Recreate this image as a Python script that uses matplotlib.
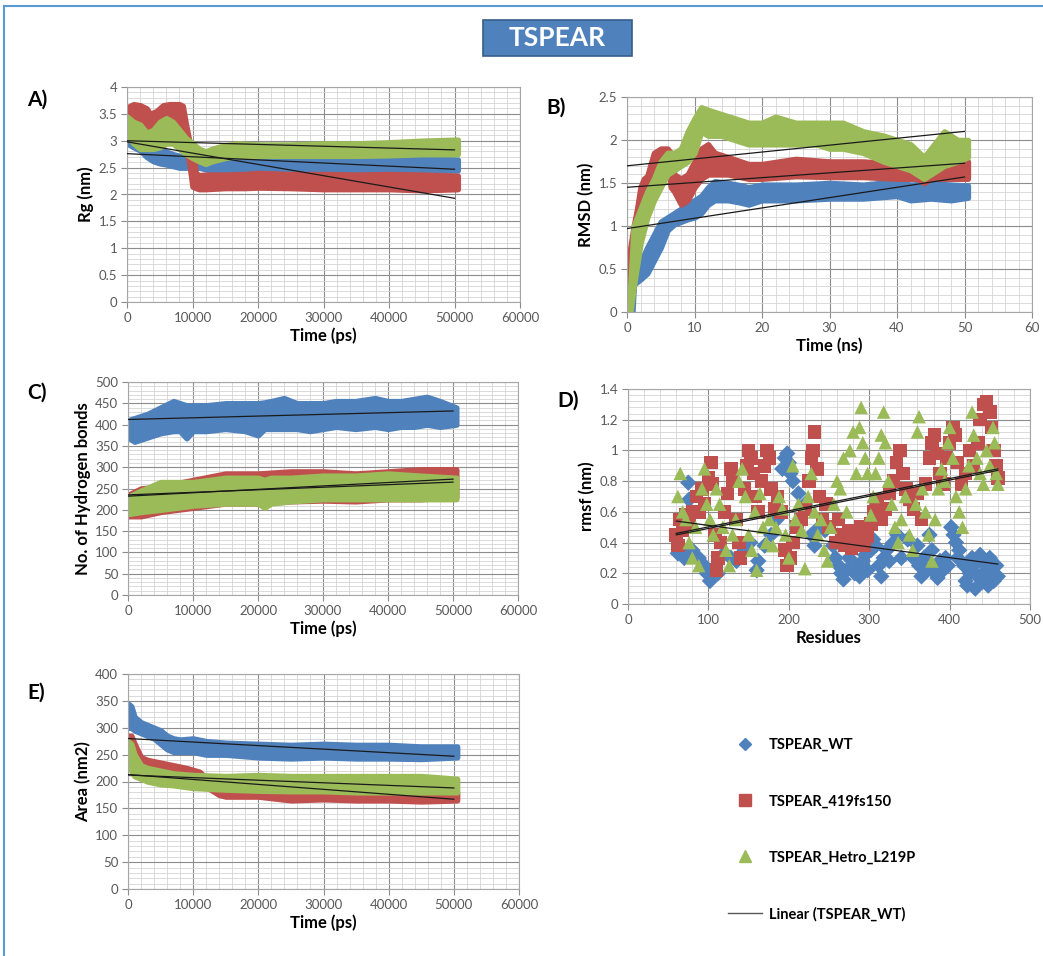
import numpy as np
import matplotlib.pyplot as plt
from matplotlib.ticker import MultipleLocator, FuncFormatter
from matplotlib.lines import Line2D
from matplotlib.patches import Rectangle

plt.rcParams['font.family'] = ['Lato', 'DejaVu Sans']

BLUE = '#4F81BD'
RED = '#C0504D'
GREEN = '#9BBB59'
TREND = '#1a1a1a'

series_names = ['TSPEAR_WT', 'TSPEAR_419fs150', 'TSPEAR_Hetro_L219P']

# ---- A) Rg (nm) vs time (ps): band envelopes
a_t_wt = [0, 1000, 2000, 3000, 4000, 5000, 6000, 7000, 8000, 9000, 10000, 11000,
          12000, 13000, 14000, 16000, 20000, 25000, 30000, 35000, 40000, 45000, 50500]
a_lo_wt = [2.95, 2.88, 2.82, 2.7, 2.62, 2.58, 2.56, 2.53, 2.5, 2.5, 2.5, 2.5,
           2.47, 2.45, 2.43, 2.42, 2.42, 2.42, 2.43, 2.42, 2.43, 2.43, 2.45]
a_hi_wt = [3.12, 3.05, 2.98, 2.92, 2.88, 2.85, 2.8, 2.75, 2.72, 2.68, 2.62, 2.58,
           2.58, 2.62, 2.65, 2.68, 2.67, 2.67, 2.68, 2.67, 2.68, 2.68, 2.65]
a_t_fs = [0, 1000, 2000, 3000, 3500, 4500, 5500, 6500, 7500, 8000, 8500, 9000, 9500,
          10000, 10500, 11000, 12000, 15000, 18000, 20000, 25000, 30000, 35000, 40000,
          45000, 50500]
a_lo_fs = [3.15, 3.25, 3.2, 3.12, 3.08, 3.2, 3.3, 3.35, 3.3, 3.2, 3.1, 2.85, 2.6,
           2.15, 2.12, 2.1, 2.1, 2.12, 2.12, 2.13, 2.12, 2.1, 2.1, 2.1, 2.08, 2.1]
a_hi_fs = [3.62, 3.68, 3.66, 3.6, 3.5, 3.55, 3.66, 3.68, 3.68, 3.68, 3.65, 3.3, 3.0,
           2.85, 2.4, 2.36, 2.37, 2.37, 2.38, 2.4, 2.38, 2.38, 2.37, 2.38, 2.37, 2.35]
a_t_he = [0, 1000, 2000, 3000, 4000, 5000, 6000, 7000, 8000, 9000, 10000, 11000,
          12000, 13000, 15000, 17000, 20000, 25000, 30000, 35000, 40000, 45000, 50500]
a_lo_he = [3.1, 2.95, 2.85, 2.85, 2.85, 2.88, 2.95, 2.95, 2.85, 2.75, 2.68, 2.62,
           2.57, 2.62, 2.68, 2.72, 2.72, 2.72, 2.72, 2.72, 2.73, 2.75, 2.75]
a_hi_he = [3.45, 3.35, 3.3, 3.15, 3.2, 3.35, 3.42, 3.35, 3.2, 3.05, 2.95, 2.85,
           2.8, 2.85, 2.92, 2.95, 2.93, 2.93, 2.95, 2.95, 2.97, 3.0, 3.02]
a_trend_x = [0, 50000]
a_trend_wt = [2.76, 2.47]
a_trend_fs = [2.98, 1.93]
a_trend_he = [3.0, 2.83]

# ---- B) RMSD (nm) vs time (ns)
b_t_wt = [0, 0.8, 1, 2, 3, 4, 5, 6, 7, 8, 9, 10, 11, 12, 13, 15, 17, 18, 20, 25,
          30, 35, 40, 42, 45, 48, 50.5]
b_lo_wt = [0, 0, 0.32, 0.38, 0.45, 0.6, 0.75, 0.95, 1.02, 1.05, 1.08, 1.1, 1.15,
           1.25, 1.3, 1.3, 1.27, 1.25, 1.3, 1.3, 1.32, 1.32, 1.35, 1.3, 1.32, 1.3, 1.33]
b_hi_wt = [0.05, 0.1, 0.5, 0.58, 0.75, 0.9, 1.05, 1.1, 1.15, 1.2, 1.25, 1.3, 1.35,
           1.45, 1.52, 1.5, 1.47, 1.45, 1.48, 1.48, 1.5, 1.48, 1.52, 1.48, 1.5, 1.48, 1.47]
b_t_fs = [0, 0.5, 1, 1.5, 2, 2.5, 3, 4, 5, 6, 6.5, 7, 8, 9, 10, 11, 12, 13, 15, 18,
          20, 25, 30, 35, 40, 43, 44, 45, 47, 50.5]
b_lo_fs = [0, 0, 0.6, 0.9, 1.05, 1.3, 1.35, 1.5, 1.7, 1.75, 1.45, 1.4, 1.25, 1.3,
           1.45, 1.55, 1.6, 1.6, 1.6, 1.55, 1.55, 1.58, 1.57, 1.57, 1.55, 1.55, 1.5,
           1.55, 1.55, 1.55]
b_hi_fs = [0.05, 0.75, 1.0, 1.2, 1.45, 1.55, 1.58, 1.85, 1.9, 1.9, 1.85, 1.6, 1.55,
           1.6, 1.75, 1.9, 1.95, 1.85, 1.8, 1.72, 1.72, 1.78, 1.75, 1.75, 1.72, 1.72,
           1.65, 1.68, 1.75, 1.75]
b_t_he = [0, 0.5, 1, 2, 3, 4, 5, 6, 7, 8, 9, 10, 11, 12, 14, 16, 18, 20, 22, 25, 28,
          30, 32, 35, 38, 40, 42, 44, 45, 47, 49, 50.5]
b_lo_he = [0, 0, 0.3, 0.8, 1.1, 1.3, 1.45, 1.6, 1.65, 1.7, 1.75, 1.85, 2.1, 2.05,
           2.05, 2.0, 1.95, 1.95, 1.95, 1.95, 1.95, 1.9, 1.9, 1.85, 1.75, 1.7, 1.65,
           1.55, 1.6, 1.7, 1.75, 1.8]
b_hi_he = [0.1, 0.3, 1.0, 1.2, 1.4, 1.55, 1.75, 1.85, 1.85, 1.9, 2.1, 2.25, 2.38,
           2.35, 2.3, 2.25, 2.2, 2.2, 2.27, 2.2, 2.2, 2.2, 2.2, 2.1, 2.05, 2.0, 1.95,
           1.8, 1.9, 2.1, 2.0, 2.0]
b_trend_x = [0, 50]
b_trend_wt = [0.97, 1.57]
b_trend_fs = [1.45, 1.73]
b_trend_he = [1.7, 2.1]

# ---- C) No. of hydrogen bonds vs time (ps)
c_t_wt = [0, 1000, 2000, 3000, 5000, 7000, 8000, 9000, 10000, 12000, 15000, 18000,
          20000, 21000, 22000, 24000, 26000, 28000, 30000, 32000, 35000, 38000, 40000,
          42000, 44000, 46000, 48000, 50500]
c_lo_wt = [370, 360, 365, 370, 380, 385, 385, 368, 385, 385, 390, 385, 375, 390, 390,
           390, 390, 385, 390, 395, 390, 395, 390, 395, 395, 400, 395, 400]
c_hi_wt = [410, 415, 420, 425, 440, 455, 450, 445, 445, 445, 450, 450, 450, 452, 455,
           462, 450, 450, 450, 455, 455, 462, 455, 455, 460, 465, 455, 440]
c_t_fs = [0, 2000, 5000, 10000, 15000, 20000, 25000, 30000, 35000, 40000, 45000, 50500]
c_lo_fs = [185, 185, 195, 205, 215, 215, 220, 222, 220, 225, 225, 230]
c_hi_fs = [235, 250, 255, 270, 285, 285, 290, 290, 285, 290, 295, 295]
c_t_he = [0, 2000, 5000, 10000, 15000, 20000, 21000, 22000, 25000, 30000, 35000,
          40000, 45000, 50500]
c_lo_he = [190, 195, 200, 210, 215, 215, 205, 215, 220, 225, 225, 225, 225, 225]
c_hi_he = [230, 245, 265, 265, 275, 275, 270, 275, 275, 280, 280, 285, 280, 275]
c_trend_x = [0, 50000]
c_trend_wt = [412, 432]
c_trend_fs = [232, 272]
c_trend_he = [235, 265]

# ---- D) rmsf (nm) vs residue
d_res_wt = [62, 70, 75, 76, 80, 88, 95, 98, 102, 108, 112, 120, 128, 135, 145, 152,
            160, 162, 170, 178, 185, 192, 195, 198, 200, 202, 205, 212, 220, 228, 232,
            238, 245, 255, 258, 262, 265, 268, 272, 275, 278, 282, 285, 288, 292, 295,
            298, 302, 305, 308, 312, 315, 318, 322, 325, 330, 335, 340, 348, 355, 360,
            362, 365, 368, 372, 375, 378, 382, 385, 388, 392, 395, 398, 402, 405, 408,
            410, 412, 418, 420, 422, 425, 428, 430, 432, 435, 438, 440, 442, 445, 448,
            450, 452, 455, 458, 460]
d_val_wt = [0.33, 0.30, 0.79, 0.68, 0.35, 0.30, 0.25, 0.20, 0.15, 0.22, 0.20, 0.33,
            0.30, 0.28, 0.35, 0.40, 0.22, 0.28, 0.38, 0.45, 0.55, 0.88, 0.95, 0.98,
            0.92, 0.85, 0.80, 0.72, 0.65, 0.45, 0.38, 0.50, 0.48, 0.38, 0.30, 0.25,
            0.20, 0.16, 0.22, 0.30, 0.35, 0.20, 0.25, 0.18, 0.28, 0.32, 0.22, 0.35,
            0.42, 0.38, 0.25, 0.18, 0.30, 0.35, 0.28, 0.40, 0.45, 0.30, 0.42, 0.30,
            0.38, 0.25, 0.18, 0.30, 0.22, 0.45, 0.35, 0.20, 0.17, 0.28, 0.22, 0.30,
            0.25, 0.50, 0.45, 0.40, 0.30, 0.35, 0.25, 0.15, 0.12, 0.20, 0.30, 0.25,
            0.10, 0.18, 0.32, 0.28, 0.15, 0.22, 0.12, 0.30, 0.20, 0.15, 0.25, 0.18]
d_res_fs = [60, 62, 64, 68, 72, 76, 80, 85, 88, 92, 95, 100, 103, 105, 108, 110, 112,
            115, 120, 124, 128, 130, 134, 138, 140, 145, 148, 150, 153, 156, 158, 162,
            166, 170, 173, 176, 178, 182, 186, 190, 195, 198, 202, 205, 210, 215, 220,
            225, 228, 230, 232, 235, 238, 242, 246, 250, 258, 262, 266, 270, 274, 278,
            282, 286, 290, 294, 298, 302, 306, 310, 315, 320, 325, 330, 334, 338, 342,
            346, 350, 355, 360, 365, 370, 375, 378, 381, 384, 388, 392, 396, 400, 404,
            407, 410, 415, 420, 425, 430, 435, 438, 442, 446, 450, 452, 455, 458, 460]
d_val_fs = [0.45, 0.38, 0.55, 0.48, 0.58, 0.52, 0.60, 0.70, 0.60, 0.75, 0.65, 0.82,
            0.92, 0.78, 0.45, 0.22, 0.30, 0.40, 0.60, 0.72, 0.88, 0.80, 0.55, 0.40,
            0.30, 0.75, 0.90, 1.00, 0.95, 0.85, 0.70, 0.60, 0.80, 0.90, 1.00, 0.95,
            0.75, 0.62, 0.70, 0.60, 0.35, 0.25, 0.30, 0.40, 0.50, 0.55, 0.62, 0.80,
            0.95, 1.00, 1.12, 0.88, 0.70, 0.55, 0.65, 0.50, 0.40, 0.55, 0.45, 0.38,
            0.48, 0.36, 0.45, 0.40, 0.50, 0.38, 0.44, 0.52, 0.60, 0.68, 0.55, 0.62,
            0.72, 0.80, 0.92, 1.00, 0.85, 0.75, 0.68, 0.62, 0.72, 0.55, 0.78, 0.95,
            1.05, 1.10, 0.98, 0.85, 0.78, 0.95, 1.05, 1.15, 1.10, 0.92, 0.78, 0.85,
            1.00, 0.90, 1.05, 1.20, 1.30, 1.32, 1.25, 1.15, 1.00, 0.90, 0.82]
d_res_he = [62, 65, 68, 72, 76, 80, 84, 88, 92, 95, 98, 102, 106, 110, 114, 118, 122,
            126, 130, 134, 138, 142, 146, 150, 154, 158, 160, 164, 168, 172, 176, 180,
            184, 188, 192, 196, 200, 205, 208, 212, 216, 220, 224, 228, 232, 236, 240,
            244, 248, 252, 256, 260, 264, 268, 272, 276, 280, 284, 288, 290, 292, 295,
            298, 302, 305, 308, 312, 315, 318, 320, 324, 328, 332, 336, 340, 345, 350,
            354, 358, 360, 362, 366, 370, 374, 378, 382, 386, 390, 394, 398, 400, 404,
            408, 412, 416, 420, 424, 428, 430, 434, 438, 442, 446, 450, 454, 456, 458,
            460]
d_val_he = [0.70, 0.85, 0.60, 0.55, 0.40, 0.30, 0.50, 0.25, 0.75, 0.88, 0.65, 0.55,
            0.45, 0.75, 0.65, 0.50, 0.35, 0.25, 0.45, 0.55, 0.80, 0.88, 0.70, 0.45,
            0.35, 0.60, 0.22, 0.72, 0.50, 0.40, 0.55, 0.38, 0.50, 0.70, 0.62, 0.45,
            0.30, 0.90, 0.55, 0.65, 0.48, 0.23, 0.70, 0.85, 0.60, 0.45, 0.55, 0.35,
            0.28, 0.50, 0.65, 0.80, 0.75, 0.95, 0.60, 1.00, 1.12, 0.85, 1.15, 1.28,
            1.05, 0.95, 0.85, 0.58, 0.70, 0.85, 0.95, 1.10, 1.25, 1.05, 0.80, 0.65,
            0.50, 0.40, 0.55, 0.70, 0.45, 0.35, 0.65, 1.12, 1.22, 0.75, 0.60, 0.45,
            0.28, 0.55, 0.75, 0.88, 0.80, 1.05, 1.15, 0.95, 0.70, 0.60, 0.50, 0.75,
            0.90, 1.25, 1.10, 0.95, 0.85, 0.78, 1.00, 0.90, 1.15, 1.05, 0.85, 0.78]
d_trend_x = [60, 460]
d_trend_wt = [0.54, 0.26]
d_trend_fs = [0.46, 0.88]
d_trend_he = [0.45, 0.87]

# ---- E) Area (nm2) vs time (ps)
e_t_wt = [0, 500, 1000, 2000, 3000, 4000, 5000, 6000, 7000, 8000, 10000, 12000,
          15000, 20000, 25000, 30000, 35000, 40000, 45000, 50500]
e_lo_wt = [300, 300, 295, 290, 285, 280, 270, 260, 255, 255, 255, 250, 250, 245,
           243, 245, 243, 243, 242, 245]
e_hi_wt = [345, 340, 320, 310, 305, 300, 295, 285, 280, 278, 280, 275, 272, 270,
           268, 270, 268, 268, 265, 265]
e_t_fs = [0, 500, 1000, 2000, 3000, 5000, 7000, 9000, 11000, 12000, 14000, 15000,
          20000, 25000, 30000, 35000, 40000, 45000, 50500]
e_lo_fs = [260, 250, 235, 225, 220, 215, 210, 205, 200, 190, 175, 172, 172, 165,
           167, 165, 165, 163, 165]
e_hi_fs = [285, 285, 270, 245, 240, 235, 230, 225, 218, 205, 195, 190, 188, 185,
           185, 185, 180, 180, 180]
e_t_he = [0, 500, 1000, 2000, 3000, 5000, 7000, 10000, 15000, 20000, 25000, 30000,
          35000, 40000, 45000, 50500]
e_lo_he = [235, 220, 210, 205, 200, 195, 193, 188, 185, 183, 182, 182, 180, 180,
           180, 180]
e_hi_he = [275, 270, 250, 230, 225, 220, 215, 212, 210, 212, 210, 210, 210, 210,
           210, 205]
e_trend_x = [0, 50000]
e_trend_wt = [280, 247]
e_trend_fs = [213, 167]
e_trend_he = [212, 188]

W, H = 1043, 956
fig = plt.figure(figsize=(W / 100, H / 100), dpi=100)


def px_axes(left, top, right, bottom):
    return fig.add_axes([left / W, 1 - bottom / H, (right - left) / W, (bottom - top) / H])


def style(ax, xmax, xmaj, xmin, ymax, ymaj, ymin):
    ax.set_xlim(0, xmax)
    ax.set_ylim(0, ymax)
    ax.xaxis.set_major_locator(MultipleLocator(xmaj))
    ax.xaxis.set_minor_locator(MultipleLocator(xmin))
    ax.yaxis.set_major_locator(MultipleLocator(ymaj))
    ax.yaxis.set_minor_locator(MultipleLocator(ymin))
    fmt = FuncFormatter(lambda v, p: f'{v:g}')
    ax.xaxis.set_major_formatter(fmt)
    ax.yaxis.set_major_formatter(fmt)
    ax.set_axisbelow(True)
    ax.grid(which='major', color='#8c8c8c', lw=0.8)
    ax.grid(which='minor', color='#d4d4d4', lw=0.6)
    for s in ax.spines.values():
        s.set_color('#a6a6a6')
        s.set_linewidth(0.8)
    ax.tick_params(which='major', length=4, color='#8c8c8c', labelsize=9.5,
                   labelcolor='#595959', pad=3)
    ax.tick_params(which='minor', length=0)


def band(ax, t, lo, hi, color):
    # thick edge mimics the overlapping markers of the original scatter
    ax.fill_between(t, lo, hi, color=color, lw=4, edgecolor=color, joinstyle='round')


def trends(ax, x, *ys):
    for y in ys:
        ax.plot(x, y, color=TREND, lw=0.9, zorder=5)


def label(ax, xl, yl, ylpad=3):
    ax.set_xlabel(xl, fontsize=12, fontweight='bold', labelpad=3)
    ax.set_ylabel(yl, fontsize=12, fontweight='bold', labelpad=ylpad)


# A
axA = px_axes(127, 87, 520, 302)
band(axA, a_t_wt, a_lo_wt, a_hi_wt, BLUE)
band(axA, a_t_fs, a_lo_fs, a_hi_fs, RED)
band(axA, a_t_he, a_lo_he, a_hi_he, GREEN)
trends(axA, a_trend_x, a_trend_wt, a_trend_fs, a_trend_he)
style(axA, 60000, 10000, 2000, 4, 0.5, 0.1)
label(axA, 'Time (ps)', 'Rg (nm)')

# B
axB = px_axes(627, 97, 1032, 312)
band(axB, b_t_wt, b_lo_wt, b_hi_wt, BLUE)
band(axB, b_t_fs, b_lo_fs, b_hi_fs, RED)
band(axB, b_t_he, b_lo_he, b_hi_he, GREEN)
trends(axB, b_trend_x, b_trend_wt, b_trend_fs, b_trend_he)
style(axB, 60, 10, 2, 2.5, 0.5, 0.1)
label(axB, 'Time (ns)', 'RMSD (nm)')

# C
axC = px_axes(128, 382, 518, 595)
band(axC, c_t_wt, c_lo_wt, c_hi_wt, BLUE)
band(axC, c_t_fs, c_lo_fs, c_hi_fs, RED)
band(axC, c_t_he, c_lo_he, c_hi_he, GREEN)
trends(axC, c_trend_x, c_trend_wt, c_trend_fs, c_trend_he)
style(axC, 60000, 10000, 2000, 500, 50, 10)
label(axC, 'Time (ps)', 'No. of Hydrogen bonds')

# D
axD = px_axes(628, 389, 1030, 604)
axD.scatter(d_res_wt, d_val_wt, marker='D', s=70, color=BLUE, edgecolors='none')
axD.scatter(d_res_fs, d_val_fs, marker='s', s=95, color=RED, edgecolors='none')
axD.scatter(d_res_he, d_val_he, marker='^', s=95, color=GREEN, edgecolors='none')
trends(axD, d_trend_x, d_trend_wt, d_trend_fs, d_trend_he)
style(axD, 500, 100, 20, 1.4, 0.2, 0.04)
label(axD, 'Residues', 'rmsf (nm)')

# E
axE = px_axes(128, 674, 519, 889)
band(axE, e_t_wt, e_lo_wt, e_hi_wt, BLUE)
band(axE, e_t_fs, e_lo_fs, e_hi_fs, RED)
band(axE, e_t_he, e_lo_he, e_hi_he, GREEN)
trends(axE, e_trend_x, e_trend_wt, e_trend_fs, e_trend_he)
style(axE, 60000, 10000, 2000, 400, 50, 10)
label(axE, 'Time (ps)', 'Area (nm2)')

# panel letters
for txt, x, y in [('A)', 27, 100), ('B)', 546, 108), ('C)', 27, 393),
                  ('D)', 557, 401), ('E)', 27, 693)]:
    fig.text(x / W, 1 - y / H, txt, fontsize=15, fontweight='bold', va='center', ha='left')

# title box
fig.add_artist(Rectangle((483 / W, 1 - 56 / H), 149 / W, 36 / H, transform=fig.transFigure,
                         facecolor=BLUE, edgecolor='#385D8A', lw=1.2))
fig.text(557 / W, 1 - 38 / H, 'TSPEAR', color='white', fontsize=19, fontweight='bold',
         ha='center', va='center')

# outer frame (top and left edge visible)
fig.add_artist(Line2D([4 / W, 1], [1 - 6 / H, 1 - 6 / H], transform=fig.transFigure,
                      color='#5B9BD5', lw=1.5))
fig.add_artist(Line2D([4 / W, 4 / W], [0, 1 - 6 / H], transform=fig.transFigure,
                      color='#5B9BD5', lw=1.5))

# legend
handles = [Line2D([], [], marker='D', color=BLUE, ls='none', markersize=6),
           Line2D([], [], marker='s', color=RED, ls='none', markersize=8),
           Line2D([], [], marker='^', color=GREEN, ls='none', markersize=8),
           Line2D([], [], color='#555555', lw=1)]
fig.legend(handles, series_names + ['Linear (TSPEAR_WT)'], loc='upper left',
           bbox_to_anchor=(728 / W, 1 - 738 / H), frameon=False, labelspacing=2.9,
           handlelength=2.3, handletextpad=0.5, borderpad=0, borderaxespad=0,
           prop={'weight': 'bold', 'size': 10.5})

fig.savefig('out.png', dpi=100)
